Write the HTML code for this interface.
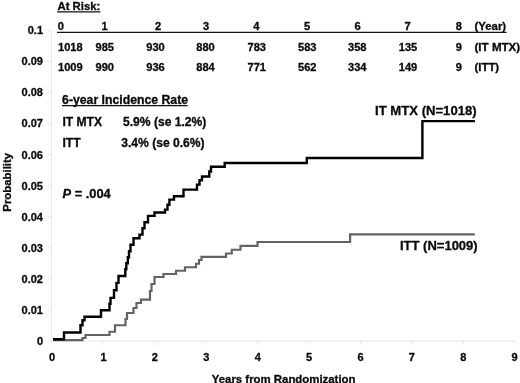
<!DOCTYPE html>
<html><head><meta charset="utf-8">
<style>
html,body{margin:0;padding:0;background:#fff;}
body{width:520px;height:383px;overflow:hidden;}
svg{display:block;filter:grayscale(1);}
text{font-family:"Liberation Sans",Arial,sans-serif;font-weight:bold;fill:#0a0a0a;stroke:#0a0a0a;stroke-width:0.3px;}
.t11{font-size:11.1px;}
.t12{font-size:12.1px;}
.t13{font-size:13px;}
.ax{font-size:11px;}
</style></head><body>
<svg width="520" height="383" viewBox="0 0 520 383">
<rect width="520" height="383" fill="#fff"/>
<!-- axes -->
<line x1="51.5" y1="30" x2="51.5" y2="341.5" stroke="#e9e9e9" stroke-width="1"/>
<line x1="51" y1="341" x2="515" y2="341" stroke="#e4e4e4" stroke-width="1"/>
<g stroke="#ebebeb" stroke-width="1"><line x1="47.5" y1="341.00" x2="51" y2="341.00"/><line x1="47.5" y1="309.93" x2="51" y2="309.93"/><line x1="47.5" y1="278.86" x2="51" y2="278.86"/><line x1="47.5" y1="247.79" x2="51" y2="247.79"/><line x1="47.5" y1="216.72" x2="51" y2="216.72"/><line x1="47.5" y1="185.65" x2="51" y2="185.65"/><line x1="47.5" y1="154.58" x2="51" y2="154.58"/><line x1="47.5" y1="123.51" x2="51" y2="123.51"/><line x1="47.5" y1="92.44" x2="51" y2="92.44"/><line x1="47.5" y1="61.37" x2="51" y2="61.37"/><line x1="47.5" y1="30.30" x2="51" y2="30.30"/><line x1="51.60" y1="341" x2="51.60" y2="345"/><line x1="103.08" y1="341" x2="103.08" y2="345"/><line x1="154.56" y1="341" x2="154.56" y2="345"/><line x1="206.04" y1="341" x2="206.04" y2="345"/><line x1="257.52" y1="341" x2="257.52" y2="345"/><line x1="309.00" y1="341" x2="309.00" y2="345"/><line x1="360.48" y1="341" x2="360.48" y2="345"/><line x1="411.96" y1="341" x2="411.96" y2="345"/><line x1="463.44" y1="341" x2="463.44" y2="345"/><line x1="514.92" y1="341" x2="514.92" y2="345"/></g>
<!-- y labels -->
<g class="ax" text-anchor="end">
<text x="43" y="33.80">0.1</text>
<text x="43" y="64.90">0.09</text>
<text x="43" y="96.00">0.08</text>
<text x="43" y="127.40">0.07</text>
<text x="43" y="158.60">0.06</text>
<text x="43" y="189.65">0.05</text>
<text x="43" y="220.80">0.04</text>
<text x="43" y="251.80">0.03</text>
<text x="43" y="282.60">0.02</text>
<text x="43" y="313.50">0.01</text>
<text x="43" y="344.50">0</text>
</g>
<!-- x labels -->
<g class="ax" text-anchor="middle">
<text x="52.1" y="361.2">0</text>
<text x="103.5" y="361.2">1</text>
<text x="154.9" y="361.2">2</text>
<text x="206.3" y="361.2">3</text>
<text x="257.7" y="361.2">4</text>
<text x="309.1" y="361.2">5</text>
<text x="360.5" y="361.2">6</text>
<text x="411.9" y="361.2">7</text>
<text x="463.3" y="361.2">8</text>
<text x="514.6" y="361.2">9</text>
</g>
<text x="211.8" y="382.5" style="font-size:11.4px">Years from Randomization</text>
<text style="font-size:11.4px" transform="translate(11.3,211.7) rotate(-90)">Probability</text>
<!-- at risk table -->
<g class="t11">
<text x="57.5" y="10.2" style="font-size:11.35px">At Risk:</text>
<text x="57.7" y="30.3">0</text>
<text x="104.7" y="30.3" text-anchor="middle">1</text>
<text x="158" y="30.3" text-anchor="middle">2</text>
<text x="206" y="30.3" text-anchor="middle">3</text>
<text x="256.4" y="30.3" text-anchor="middle">4</text>
<text x="307" y="30.3" text-anchor="middle">5</text>
<text x="357.5" y="30.3" text-anchor="middle">6</text>
<text x="407.5" y="30.3" text-anchor="middle">7</text>
<text x="458.75" y="30.3" text-anchor="middle">8</text>
<text x="474.5" y="30.3" style="font-size:11.4px">(Year)</text>

<text x="58" y="50.75">1018</text>
<text x="95.5" y="50.75">985</text>
<text x="146.25" y="50.75">930</text>
<text x="196.25" y="50.75">880</text>
<text x="247.5" y="50.75">783</text>
<text x="298" y="50.75">583</text>
<text x="348" y="50.75">358</text>
<text x="398.75" y="50.75">135</text>
<text x="455.75" y="50.75">9</text>
<text x="474.5" y="50.75" style="font-size:11.6px">(IT MTX)</text>

<text x="58" y="71.25">1009</text>
<text x="95.5" y="71.25">990</text>
<text x="146.25" y="71.25">936</text>
<text x="196.25" y="71.25">884</text>
<text x="247.5" y="71.25">771</text>
<text x="298" y="71.25">562</text>
<text x="348" y="71.25">334</text>
<text x="398.75" y="71.25">149</text>
<text x="455.75" y="71.25">9</text>
<text x="474.5" y="71.25" style="font-size:11.4px">(ITT)</text>
</g>
<line x1="57.2" y1="11.9" x2="100.3" y2="11.9" stroke="#111" stroke-width="1.2"/>
<line x1="57" y1="32.3" x2="506.5" y2="32.3" stroke="#111" stroke-width="1.2"/>
<!-- incidence -->
<g class="t12">
<text x="62.1" y="103.9" style="font-size:12.25px">6-year Incidence Rate</text>
<text x="62.4" y="126.2">IT MTX</text>
<text x="123" y="126.2">5.9% (se 1.2%)</text>
<text x="62.4" y="147.3">ITT</text>
<text x="121.25" y="147.3">3.4% (se 0.6%)</text>
</g>
<line x1="62" y1="105.7" x2="187.5" y2="105.7" stroke="#111" stroke-width="1.3"/>
<text x="62.5" y="197.5" style="font-size:12.85px"><tspan font-style="italic">P</tspan> = .004</text>
<!-- curve labels -->
<text class="t13" x="375.1" y="114.7" style="font-size:13.1px">IT MTX (N=1018)</text>
<text class="t13" x="400" y="249.8">ITT (N=1009)</text>
<!-- curves -->
<path fill="none" stroke="#636363" stroke-width="2.2" stroke-linejoin="miter" d="M53,340.2 H82.5 V338 H85.5 V335 H109.5 V331.75 H115 V325.25 H125.5 V319 H127 V313 H133.5 V308 H136.5 V303 H141 V299.6 H150 V291 H151.5 V284 H154.5 V277 H163.5 V274 H176 V270.75 H185 V267.25 H196 V263.75 H199 V260 H201.5 V256.9 H226 V253.5 H231.75 V249.75 H240.5 V245.9 H257.5 V242 H350.1 V234.3 H474.8"/>
<path fill="none" transform="translate(0,0.25)" stroke="#000" stroke-width="2.4" stroke-linejoin="miter" d="M53,339 H64 V332.3 H80.5 V325 H82.5 V320 H84.5 V316.5 H101 V310 H109.5 V303.5 H110.5 V297.6 H114 V290 H116.5 V282.6 H118.5 V275.75 H125.3 V269 H126.3 V263 H127.8 V257 H129 V251 H130.5 V244.5 H133.5 V238 H139.5 V234.4 H142.5 V228 H144.5 V222 H148 V215.6 H154.5 V212.25 H165 V209.4 H167.5 V204.5 H169.4 V199.4 H174 V196 H183.5 V189.4 H197 V184.4 H199.5 V180 H202 V176.2 H209.3 V171.25 H211 V166.5 H224.7 V162.7 H306.8 V157.7 H422.4 V120.9 H474.9"/>
</svg>
</body></html>
